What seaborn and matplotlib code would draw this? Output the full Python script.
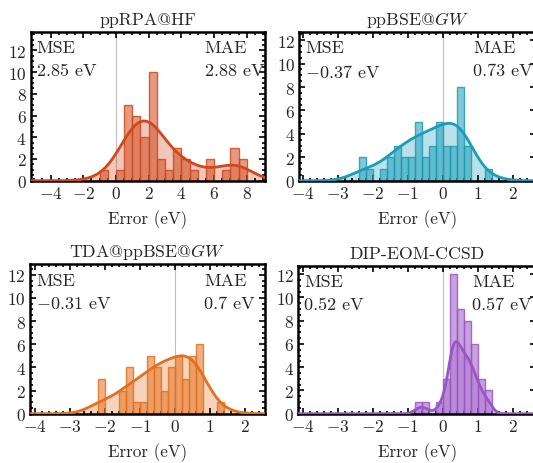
import numpy as np
import pandas as pd
import matplotlib
matplotlib.use("Agg")
import matplotlib.pyplot as plt
import seaborn as sns
from matplotlib.colors import to_rgba
from matplotlib.ticker import MultipleLocator, FuncFormatter

# ***DATOS***
titles = ["ppRPA@HF", r"ppBSE@$GW$", r"TDA@ppBSE@$GW$", "DIP-EOM-CCSD"]
mse_text = ["2.85 eV", r"$-$0.37 eV", r"$-$0.31 eV", "0.52 eV"]
mae_text = ["2.88 eV", "0.73 eV", "0.7 eV", "0.57 eV"]

# bordes de los bins y cuentas por bin
bins_rpa = np.arange(-1.0, 8.01, 0.5)
counts_rpa = [1, 0, 1, 7, 6, 4, 10, 2, 1, 3, 2, 1, 0, 2, 0, 1, 3, 2]

bins_bse = np.arange(-2.4, 1.41, 0.2)
counts_bse = [2, 1, 0, 1, 2, 3, 2, 2, 5, 2, 3, 5, 3, 3, 8, 3, 0, 0, 1]

bins_tda = np.arange(-2.2, 1.41, 0.2)
counts_tda = [3, 0, 0, 2, 4, 1, 1, 5, 4, 2, 4, 5, 3, 5, 6, 0, 0, 1]

bins_eom = np.arange(-0.8, 1.41, 0.2)
counts_eom = [1, 1, 0, 1, 3, 12, 9, 8, 6, 3, 2]

# altura maxima de la curva KDE en la figura original
kde_peak = [5.5, 4.9, 5.0, 6.2]

colores = ["#D0481C", "#1C9CB8", "#E2711F", "#9B55C6"]
bw = [0.42, 0.46, 0.46, 0.32]

# ***ESTILO***
sns.set_style("ticks")
plt.rcParams["font.family"] = ["cmr10", "DejaVu Serif"]
plt.rcParams["mathtext.fontset"] = "cm"
plt.rcParams["axes.formatter.use_mathtext"] = True
plt.rcParams["axes.unicode_minus"] = False
texto = "#262626"

W, H = 533, 464
fig = plt.figure(figsize=(W / 100, H / 100), dpi=100)

# (izq, arriba, der, abajo) en pixeles, xlim
cajas = [
    ((30.7, 33, 265, 181.7), (-5.22, 9.12)),
    ((299.3, 33, 536, 181.7), (-4.1, 2.66)),
    ((30, 265.3, 265, 414.7), (-4.14, 2.57)),
    ((298.3, 267, 536, 414.7), (-4.12, 2.66)),
]
ylims = [13.7, 12.7, 12.9, 12.7]
datos = [(bins_rpa, counts_rpa), (bins_bse, counts_bse),
         (bins_tda, counts_tda), (bins_eom, counts_eom)]

fmt = FuncFormatter(lambda v, p: r"$\mathbf{%d}$" % round(v))

for i in range(4):
    (l, t, r, b), xl = cajas[i]
    ax = fig.add_axes([l / W, 1 - b / H, (r - l) / W, (b - t) / H])
    bins, counts = datos[i]
    df = pd.DataFrame({"error": (bins[:-1] + bins[1:]) / 2, "n": counts})
    c = colores[i]

    sns.histplot(data=df, x="error", weights="n", bins=list(bins), kde=True, ax=ax,
                 color=c, stat="count",
                 kde_kws={"cut": 30, "clip": xl, "bw_method": bw[i], "gridsize": 400},
                 line_kws={"lw": 2.0, "zorder": 5})
    for p in ax.patches:
        p.set_alpha(None)
        p.set_facecolor(to_rgba(c, 0.55))
        p.set_edgecolor(to_rgba(c, 0.85))
        p.set_linewidth(1.0)

    # curva KDE reescalada a la altura de la original, con relleno claro
    linea = ax.lines[0]
    xk, yk = linea.get_data()
    yk = yk * kde_peak[i] / yk.max()
    linea.set_data(xk, yk)
    linea.set_color(c)
    ax.fill_between(xk, yk, color=c, alpha=0.3, lw=0, zorder=0.5)
    ax.axvline(0, color="#BDBDBD", lw=0.8, zorder=0.4)

    ax.set_xlim(*xl)
    ax.set_ylim(0, ylims[i])
    ax.set_ylabel("")
    ax.set_xlabel("Error (eV)", fontsize=12.3, labelpad=6, color=texto)
    ax.set_title(titles[i], fontsize=12.8, pad=6, color=texto)

    ax.xaxis.set_major_locator(MultipleLocator(2 if i == 0 else 1))
    ax.xaxis.set_minor_locator(MultipleLocator(0.5 if i == 0 else 0.2))
    ax.yaxis.set_major_locator(MultipleLocator(2))
    ax.yaxis.set_minor_locator(MultipleLocator(0.5))
    ax.xaxis.set_major_formatter(fmt)
    ax.yaxis.set_major_formatter(fmt)
    ax.tick_params(which="both", direction="in", top=True, right=True,
                   width=1.2, color="black", labelsize=12.5, pad=3)
    ax.tick_params(which="major", length=4)
    ax.tick_params(which="minor", length=2)
    for s in ax.spines.values():
        s.set_linewidth(1.8)
        s.set_color("black")

    for dx, txt1, txt2 in [(6, "MSE", mse_text[i]), (174, "MAE", mae_text[i])]:
        ax.annotate(txt1, xy=(0, 1), xycoords="axes fraction", xytext=(dx, -8),
                    textcoords="offset pixels", ha="left", va="top",
                    fontsize=13, color=texto)
        ax.annotate(txt2, xy=(0, 1), xycoords="axes fraction", xytext=(dx, -31),
                    textcoords="offset pixels", ha="left", va="top",
                    fontsize=13, color=texto)

fig.savefig("out.png", dpi=100, facecolor="white")
